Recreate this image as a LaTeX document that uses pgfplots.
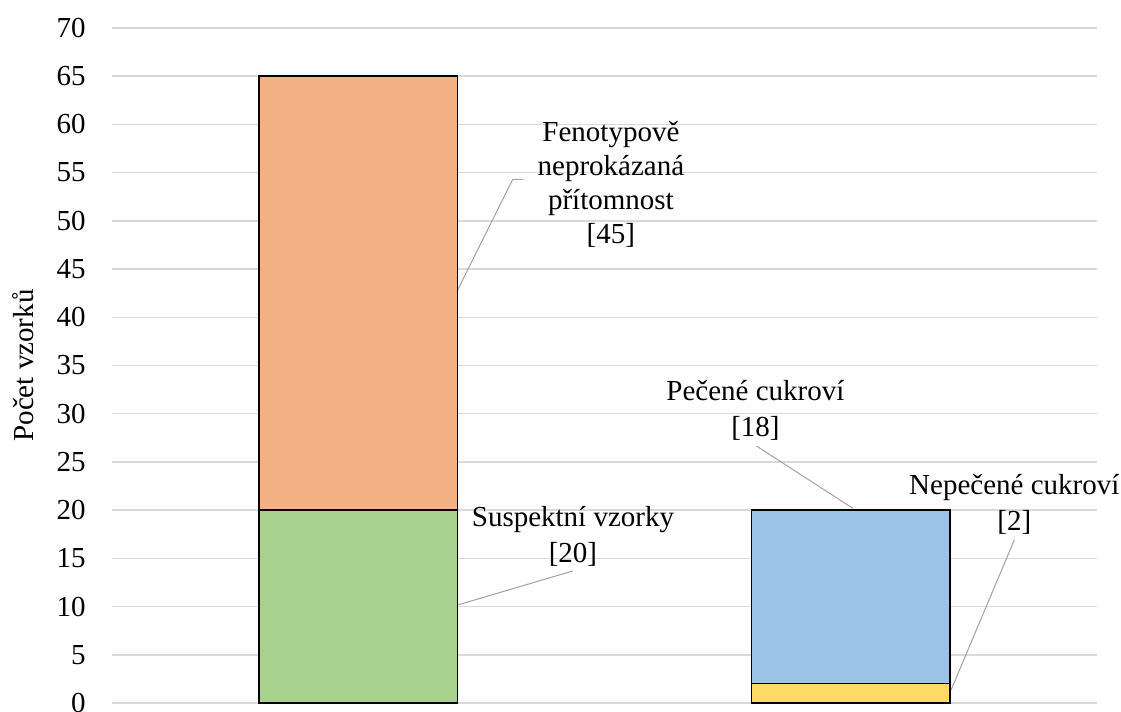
\documentclass[border=0pt]{standalone}
\usepackage{pgfplots}
\pgfplotsset{compat=1.18}
\usepackage{fontspec}
\setmainfont{LiberationSerif}[Extension=.ttf, UprightFont=*-Regular, BoldFont=*-Bold, ItalicFont=*-Italic, BoldItalicFont=*-BoldItalic]
\definecolor{cOrange}{HTML}{F4B183}
\definecolor{cGreen}{HTML}{A9D18E}
\definecolor{cBlue}{HTML}{9DC3E6}
\definecolor{cYellow}{HTML}{FFD966}
\definecolor{cGrid}{HTML}{D9D9D9}
\definecolor{cLead}{HTML}{A6A6A6}
\begin{document}
\begin{tikzpicture}
\useasboundingbox (-84pt,-6pt) rectangle (756.75pt,527.25pt);
\begin{axis}[
  scale only axis,
  width=738.75pt, height=506.25pt,
  at={(0,0)}, anchor=south west,
  ybar stacked,
  bar width=0.403,
  xmin=-0.5, xmax=1.5,
  ymin=0, ymax=70,
  ytick={0,5,...,70},
  xtick=\empty,
  ymajorgrids,
  grid style={cGrid, line width=1.1pt},
  axis line style={draw=none},
  tick style={draw=none},
  font=\rmfamily\fontsize{21.75}{26}\selectfont,
  /pgf/number format/assume math mode=true,
  yticklabel style={anchor=east, inner sep=0pt, xshift=-19.5pt, font=\rmfamily\fontsize{21.75}{26}\selectfont},
  ylabel={Počet vzorků},
  ylabel style={at={(axis description cs:-0.0904,0.5)}, anchor=center},
  clip=false,
  every axis plot/.append style={draw=black, line width=1.1pt},
]
\addplot[fill=cGreen] coordinates {(0,20) (1,0)};
\addplot[fill=cYellow] coordinates {(0,0) (1,2)};
\addplot[fill=cOrange] coordinates {(0,45) (1,0)};
\addplot[fill=cBlue] coordinates {(0,0) (1,18)};

\draw[cLead, line width=0.8pt] (axis cs:0.2016,42.8) -- (axis cs:0.3136,54.3) -- (axis cs:0.336,54.3);
\draw[cLead, line width=0.8pt] (axis cs:0.2016,10.16) -- (axis cs:0.436,13.7);
\draw[cLead, line width=0.8pt] (axis cs:0.8086,26.65) -- (axis cs:1.004,20.2);
\draw[cLead, line width=0.8pt] (axis cs:1.332,16.9) -- (axis cs:1.2037,1.35);

\node[align=center, inner sep=0pt, font=\rmfamily\fontsize{21.75}{25.5}\selectfont] at (axis cs:0.513,53.8) {Fenotypově\\neprokázaná\\přítomnost\\{[45]}};
\node[align=center, inner sep=0pt, font=\rmfamily\fontsize{21.75}{27}\selectfont] at (axis cs:0.436,17.3) {Suspektní vzorky\\{[20]}};
\node[align=center, inner sep=0pt, font=\rmfamily\fontsize{21.75}{27}\selectfont] at (axis cs:0.8065,30.3) {Pečené cukroví\\{[18]}};
\node[align=center, inner sep=0pt, font=\rmfamily\fontsize{21.75}{27}\selectfont] at (axis cs:1.332,20.6) {Nepečené cukroví\\{[2]}};
\end{axis}
\end{tikzpicture}
\end{document}
